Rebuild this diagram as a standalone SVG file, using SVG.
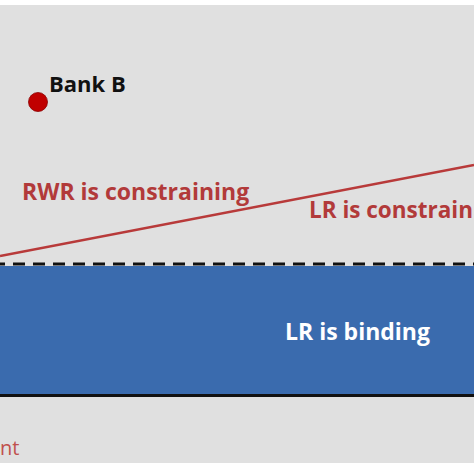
<svg xmlns="http://www.w3.org/2000/svg" width="474" height="474" viewBox="0 0 474 474">
<style>
.lbl{font-family:"Open Sans","Noto Sans","DejaVu Sans",sans-serif;font-weight:700}
.red{fill:#b23a3a}
</style>
<rect width="474" height="474" fill="#ffffff"/>
<rect x="0" y="5" width="474" height="458" fill="#e0e0e0"/>
<g id="lr-region">
<rect x="0" y="266" width="474" height="129" fill="#3a6bae"/>
<line x1="0" y1="395.5" x2="474" y2="395.5" stroke="#111111" stroke-width="3"/>
<text class="lbl" x="285" y="340" font-size="23" fill="#ffffff">LR is binding</text>
</g>
<g id="connectors">
<line x1="0" y1="264" x2="474" y2="264" stroke="#111111" stroke-width="2.8" stroke-dasharray="12,8" stroke-dashoffset="7"/>
<line x1="0" y1="256" x2="474" y2="165" stroke="#b83a3a" stroke-width="2.6"/>
</g>
<g id="bank-b">
<circle cx="38" cy="102" r="9.5" fill="#c00000" stroke="#8a0000" stroke-width="0.8"/>
<text class="lbl" x="49" y="92" font-size="22" fill="#111111">Bank B</text>
</g>
<g id="rwr-label">
<text class="lbl red" x="22" y="200" font-size="23">RWR is constraining</text>
</g>
<g id="lr-label">
<text class="lbl red" x="309" y="218" font-size="22.5">LR is constrain</text>
</g>
<g id="bottom-label">
<text x="0" y="455" font-family="'Open Sans','Noto Sans',sans-serif" font-size="20" fill="#c0504d">nt</text>
</g>
</svg>
